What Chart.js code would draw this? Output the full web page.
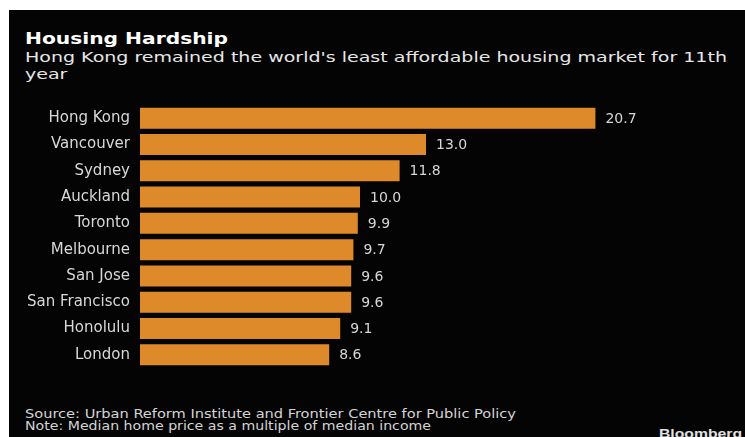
<!DOCTYPE html>
<html>
<head>
<meta charset="utf-8">
<script src="https://cdn.jsdelivr.net/npm/chart.js@4.4.0/dist/chart.umd.min.js"></script>
<style>
    html, body { margin: 0; padding: 0; background: #fff; }
    body { width: 745px; height: 437px; position: relative; overflow: hidden; }
    #panel { position: absolute; left: 9px; top: 10px; right: 0; bottom: 0; background: #040404; }
    .txt { position: absolute; white-space: nowrap; line-height: 1; transform-origin: 0 50%;
           font-family: "DejaVu Sans", sans-serif; }
    #title { left: 25px; top: 30.5px; font-size: 16px; font-weight: bold; color: #fff; }
    .sub { left: 25px; font-size: 13.5px; color: #e6e6e6; }
    #sub1 { top: 51px; }
    #sub2 { top: 67.5px; }
    .foot { left: 25px; font-family: "DejaVu Sans Condensed", "DejaVu Sans", sans-serif;
            font-stretch: condensed; font-size: 12px; color: #d4d4d4; }
    #source { top: 408px; }
    #note { top: 420px; }
    #logo { left: 659px; top: 426.5px; font-family: "Liberation Sans", sans-serif;
            font-weight: bold; font-size: 13px; color: #e2e2e2; }
    #chartBox { position: absolute; left: 0; top: 105px; width: 745px; height: 263px; }
</style>
</head>
<body>
<div id="panel"></div>
<div class="txt" id="title">Housing Hardship</div>
<div class="txt sub" id="sub1">Hong Kong remained the world's least affordable housing market for 11th</div>
<div class="txt sub" id="sub2">year</div>
<div class="txt foot" id="source">Source: Urban Reform Institute and Frontier Centre for Public Policy</div>
<div class="txt foot" id="note">Note: Median home price as a multiple of median income</div>
<div class="txt" id="logo">Bloomberg</div>
<div id="chartBox"><canvas id="hardshipChart"></canvas></div>

<script>
// Median home price / median income
const cities = ['Hong Kong', 'Vancouver', 'Sydney', 'Auckland', 'Toronto',
    'Melbourne', 'San Jose', 'San Francisco', 'Honolulu', 'London'];
const priceToIncome = [20.7, 13.0, 11.8, 10.0, 9.9, 9.7, 9.6, 9.6, 9.1, 8.6];

/**
 * Stretch a text line sideways so it spans the given width
 * (the reference artwork is a little wider than the fonts we have)
 */
function fitWidth(id, target, scaleFrom) {
    const el = document.getElementById(id);
    if (!el) return 1;
    const s = scaleFrom || target / el.getBoundingClientRect().width;
    el.style.transform = `scaleX(${s})`;
    return s;
}

function layoutText() {
    fitWidth('title', 203);
    const subScale = fitWidth('sub1', 702);
    fitWidth('sub2', 0, subScale);
    fitWidth('source', 491);
    fitWidth('note', 406);
    fitWidth('logo', 83);
}

/**
 * Write the value just past the end of each bar
 */
const valueLabels = {
    id: 'valueLabels',
    afterDatasetsDraw(chart) {
        const ctx = chart.ctx;
        const meta = chart.getDatasetMeta(0);
        ctx.save();
        ctx.font = '14px "DejaVu Sans", sans-serif';
        ctx.fillStyle = '#d6d6d6';
        ctx.textAlign = 'left';
        ctx.textBaseline = 'middle';
        meta.data.forEach((bar, i) => {
            ctx.fillText(priceToIncome[i].toFixed(1), bar.x + 10, bar.y + 1);
        });
        ctx.restore();
    }
};

function initializeHardshipChart() {
    const canvas = document.getElementById('hardshipChart');
    if (!canvas) return;

    new Chart(canvas.getContext('2d'), {
        type: 'bar',
        data: {
            labels: cities,
            datasets: [
                {
                    data: priceToIncome,
                    backgroundColor: '#df8a2a',
                    borderWidth: 0,
                    barPercentage: 0.8,
                    categoryPercentage: 1.0
                }
            ]
        },
        options: {
            indexAxis: 'y',
            responsive: true,
            maintainAspectRatio: false,
            animation: false,
            layout: { padding: { left: 0, right: 55, top: 0, bottom: 0 } },
            plugins: {
                legend: { display: false },
                tooltip: { enabled: false }
            },
            scales: {
                x: {
                    display: false,
                    min: 0,
                    max: 25
                },
                y: {
                    grid: { display: false, drawTicks: false },
                    border: { display: false },
                    ticks: {
                        color: '#d8d8d8',
                        padding: 10,
                        font: { family: '"DejaVu Sans", sans-serif', size: 15 }
                    },
                    afterFit(scale) {
                        // fixed gutter for the city names, no extra room above/below
                        scale.width = 140;
                        scale.paddingTop = 0;
                        scale.paddingBottom = 0;
                    }
                }
            }
        },
        plugins: [valueLabels]
    });
}

document.addEventListener('DOMContentLoaded', function() {
    layoutText();
    initializeHardshipChart();
});
</script>
</body>
</html>
